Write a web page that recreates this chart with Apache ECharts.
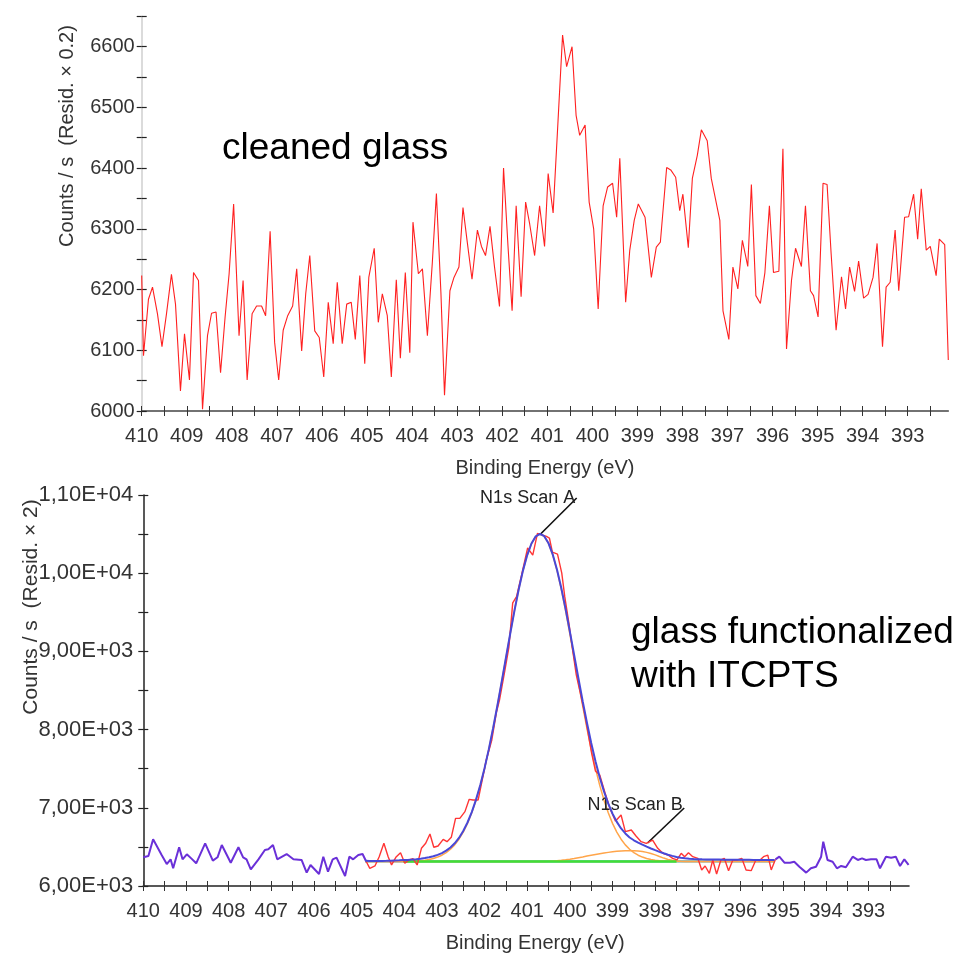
<!DOCTYPE html>
<html>
<head>
<meta charset="utf-8">
<script src="https://cdn.jsdelivr.net/npm/echarts@6.0.0/dist/echarts.min.js"></script>
<style>
html,body{margin:0;padding:0;background:#fff;}
#chart{width:970px;height:956px;}
</style>
</head>
<body>
<div id="chart"></div>
<script>
// ---------- Top panel: cleaned glass (energy in eV, counts/s) ----------
const topEnergy = [410.00,409.96,409.85,409.76,409.65,409.55,409.45,409.34,409.25,409.14,409.05,408.94,408.85,408.74,408.65,408.54,408.45,408.35,408.25,408.15,408.06,407.96,407.84,407.75,407.66,407.55,407.45,407.34,407.25,407.15,407.05,406.96,406.86,406.76,406.65,406.56,406.45,406.36,406.27,406.16,406.06,405.96,405.86,405.75,405.66,405.55,405.45,405.35,405.26,405.16,405.05,404.96,404.84,404.75,404.66,404.55,404.46,404.35,404.26,404.15,404.05,403.98,403.86,403.77,403.66,403.55,403.46,403.36,403.28,403.16,403.07,402.96,402.87,402.78,402.67,402.55,402.46,402.37,402.27,402.17,402.06,401.97,401.87,401.78,401.69,401.58,401.48,401.39,401.28,401.17,401.06,400.98,400.87,400.76,400.66,400.57,400.45,400.36,400.28,400.16,400.07,399.97,399.87,399.76,399.66,399.55,399.46,399.39,399.26,399.17,399.07,398.98,398.83,398.69,398.58,398.49,398.35,398.26,398.15,398.06,397.99,397.87,397.78,397.67,397.58,397.45,397.36,397.17,397.10,396.97,396.88,396.77,396.67,396.55,396.47,396.37,396.27,396.17,396.07,395.98,395.86,395.77,395.69,395.58,395.49,395.36,395.27,395.16,395.09,394.99,394.88,394.79,394.70,394.59,394.47,394.38,394.29,394.18,394.09,393.98,393.88,393.77,393.68,393.56,393.48,393.39,393.28,393.20,393.07,392.98,392.87,392.78,392.70,392.59,392.50,392.37,392.30,392.18,392.10];
const topCounts = [6223,6091,6184,6204,6160,6106,6160,6225,6176,6033,6127,6051,6228,6215,6003,6124,6161,6163,6063,6154,6226,6341,6124,6215,6051,6160,6173,6173,6157,6296,6113,6051,6133,6157,6173,6234,6099,6193,6256,6132,6121,6056,6179,6111,6212,6111,6176,6179,6118,6223,6078,6220,6268,6146,6193,6157,6056,6216,6087,6228,6096,6311,6226,6234,6124,6245,6358,6195,6026,6198,6220,6237,6335,6281,6217,6298,6271,6256,6304,6237,6172,6400,6270,6165,6338,6188,6344,6308,6256,6338,6271,6391,6326,6479,6619,6567,6600,6487,6454,6471,6344,6300,6168,6338,6369,6375,6319,6416,6179,6264,6314,6341,6319,6220,6270,6278,6401,6397,6385,6330,6357,6269,6383,6421,6463,6445,6383,6314,6165,6118,6237,6201,6281,6238,6373,6190,6177,6228,6338,6228,6230,6432,6102,6215,6268,6238,6338,6198,6190,6155,6375,6373,6259,6133,6221,6168,6237,6197,6247,6186,6192,6220,6276,6106,6204,6212,6298,6198,6319,6320,6357,6283,6366,6265,6271,6223,6283,6274,6084];

// ---------- Bottom panel: glass functionalized with ITCPTS ----------
// raw spectrum outside the fit region
const outerLeftE = [410.00,409.88,409.77,409.57,409.45,409.36,409.30,409.16,409.08,408.98,408.87,408.76,408.55,408.37,408.26,408.16,407.95,407.77,407.66,407.58,407.48,407.30,407.15,407.07,406.96,406.86,406.64,406.48,406.29,406.17,406.08,405.88,405.78,405.67,405.56,405.47,405.27,405.17,405.08,404.96,404.86,404.78];
const outerLeftCounts = [6367,6384,6597,6396,6281,6341,6226,6495,6341,6405,6350,6290,6546,6324,6367,6524,6298,6495,6367,6341,6213,6340,6460,6469,6524,6341,6409,6341,6333,6171,6269,6153,6375,6183,6341,6362,6128,6375,6341,6396,6409,6320];
const outerRightE = [395.18,395.09,394.97,394.84,394.74,394.62,394.46,394.35,394.23,394.11,394.06,393.96,393.84,393.74,393.64,393.53,393.37,393.25,393.15,393.06,392.94,392.81,392.73,392.59,392.47,392.36,392.26,392.16,392.06];
const outerRightCounts = [6341,6375,6298,6298,6311,6247,6171,6226,6247,6375,6567,6333,6311,6226,6256,6239,6375,6333,6354,6333,6341,6341,6226,6375,6362,6375,6256,6341,6269];
// measured data inside the fit region
const regionE = [404.78,404.69,404.57,404.47,404.36,404.26,404.18,404.08,403.97,403.87,403.77,403.68,403.58,403.48,403.38,403.28,403.19,403.09,402.97,402.88,402.78,402.68,402.58,402.46,402.36,402.27,402.15,402.03,401.96,401.83,401.72,401.65,401.53,401.43,401.34,401.25,401.13,400.99,400.87,400.76,400.65,400.55,400.48,400.41,400.29,400.19,400.12,400.02,399.93,399.85,399.76,399.67,399.58,399.49,399.40,399.30,399.18,399.06,398.93,398.80,398.70,398.56,398.45,398.33,398.21,398.06,397.94,397.82,397.70,397.59,397.49,397.39,397.31,397.22,397.12,397.00,396.91,396.83,396.73,396.65,396.56,396.46,396.38,396.28,396.18,396.07,395.97,395.87,395.75,395.64,395.56,395.46,395.36,395.28,395.18];
const regionCounts = [6320,6226,6256,6375,6546,6375,6269,6367,6426,6290,6333,6350,6269,6482,6546,6665,6495,6512,6597,6567,6622,6865,6865,6951,7108,7100,7100,7420,7611,7867,8225,8378,8737,9050,9620,9700,9980,10322,10230,10510,10490,10470,10450,10270,10245,10000,9700,9350,9000,8700,8480,8250,7980,7700,7470,7420,7200,6990,6830,6908,6695,6716,6639,6567,6546,6588,6482,6418,6396,6354,6333,6418,6375,6426,6375,6354,6205,6256,6162,6333,6153,6333,6354,6196,6333,6333,6354,6205,6196,6333,6324,6375,6396,6205,6341];
// fit curves (read at 0.1 eV)
const fitE = [404.8,404.7,404.6,404.5,404.4,404.3,404.2,404.1,404.0,403.9,403.8,403.7,403.6,403.5,403.4,403.3,403.2,403.1,403.0,402.9,402.8,402.7,402.6,402.5,402.4,402.3,402.2,402.1,402.0,401.9,401.8,401.7,401.6,401.5,401.4,401.3,401.2,401.1,401.0,400.9,400.8,400.7,400.6,400.5,400.4,400.3,400.2,400.1,400.0,399.9,399.8,399.7,399.6,399.5,399.4,399.3,399.2,399.1,399.0,398.9,398.8,398.7,398.6,398.5,398.4,398.3,398.2,398.1,398.0,397.9,397.8,397.7,397.6,397.5,397.4,397.3,397.2,397.1,397.0,396.9,396.8,396.7,396.6,396.5,396.4,396.3,396.2,396.1,396.0,395.9,395.8,395.7,395.6,395.5,395.4,395.3,395.2];
const envelope = [6322,6320,6320,6320,6321,6322,6324,6326,6328,6331,6334,6338,6343,6349,6357,6367,6380,6398,6421,6452,6493,6546,6615,6703,6812,6945,7105,7292,7507,7750,8018,8305,8607,8916,9223,9519,9792,10033,10232,10380,10472,10503,10473,10382,10237,10042,9807,9541,9253,8955,8656,8364,8087,7829,7595,7388,7208,7054,6926,6820,6736,6672,6620,6585,6555,6528,6503,6480,6458,6437,6418,6400,6385,6372,6362,6355,6350,6346,6343,6341,6340,6339,6338,6338,6337,6337,6336,6336,6335,6335,6335,6334,6334,6334,6333,6333,6333];
const componentA = [6312,6312,6312,6312,6312,6312,6312,6312,6313,6314,6315,6317,6320,6324,6330,6339,6352,6370,6394,6427,6470,6526,6598,6689,6801,6936,7098,7287,7504,7748,8016,8304,8606,8915,9222,9518,9791,10032,10231,10379,10471,10502,10471,10379,10231,10032,9791,9518,9222,8915,8606,8304,8016,7748,7504,7287,7098,6936,6801,6689,6598,6526,6470,6427,6394,6370,6352,6339,6330,6324,6320,6317,6315,6314,6313,6312,6312,6312,6312,6312,6312,6312,6312,6312,6312,6312,6312,6312,6312,6312,6312,6312,6312,6312,6312,6312,6312];
const componentB = [6312,6312,6312,6312,6312,6312,6312,6312,6312,6312,6312,6312,6312,6312,6312,6312,6312,6312,6312,6312,6312,6312,6312,6312,6312,6312,6312,6312,6312,6312,6312,6312,6312,6312,6312,6312,6312,6312,6312,6312,6312,6313,6314,6315,6318,6322,6328,6335,6343,6352,6362,6372,6383,6393,6403,6413,6422,6430,6437,6443,6448,6451,6452,6451,6447,6440,6430,6416,6398,6377,6357,6340,6328,6320,6316,6314,6313,6312,6312,6312,6312,6312,6312,6312,6312,6312,6312,6312,6312,6312,6312,6312,6312,6312,6312,6312,6312];
const backgroundE = [404.8, 395.2];
const backgroundCounts = [6316, 6316];
const greenE = [403.9, 397.5];
const greenCounts = [6312, 6312];

// ---------- ticks / labels ----------
const xTickLabels = [410,409,408,407,406,405,404,403,402,401,400,399,398,397,396,395,394,393];
const xMinorTicks = [410,409.5,409,408.5,408,407.5,407,406.5,406,405.5,405,404.5,404,403.5,403,402.5,402,401.5,401,400.5,400,399.5,399,398.5,398,397.5,397,396.5,396,395.5,395,394.5,394,393.5,393,392.5];
const yTopLabels = [6000,6100,6200,6300,6400,6500,6600];
const yTopTicks = [6000,6050,6100,6150,6200,6250,6300,6350,6400,6450,6500,6550,6600,6650];
const yBotLabelValues = [6000,7000,8000,9000,10000,11000];
const yBotLabels = ['6,00E+03','7,00E+03','8,00E+03','9,00E+03','1,00E+04','1,10E+04'];
const yBotTicks = [6000,6500,7000,7500,8000,8500,9000,9500,10000,10500,11000];

const FONT = 'Liberation Sans, Arial, sans-serif';
const zip = (xs, ys) => xs.map((x, i) => [x, ys[i]]);

function xPair(grid, min, lineColor, nameShift) {
  const base = {gridIndex: grid, type: 'value', inverse: true, min: min, max: 410, position: 'bottom', splitLine: {show: false}};
  return [
    Object.assign({}, base, {
      axisLine: {show: true, lineStyle: {color: lineColor, width: 1.6}},
      axisTick: {show: true, customValues: xMinorTicks, length: 5, lineStyle: {color: '#333', width: 1}},
      axisLabel: {show: true, customValues: xTickLabels, margin: 15, fontSize: 20, color: '#333', fontFamily: FONT,
        formatter: v => String(Math.round(v))},
      name: 'Binding Energy (eV)', nameLocation: 'middle', nameGap: 47,
      nameTextStyle: {fontSize: 20, color: '#333', fontFamily: FONT, padding: [0, 0, 0, nameShift]}
    }),
    Object.assign({}, base, {
      axisLine: {show: false},
      axisTick: {show: true, inside: true, customValues: xMinorTicks, length: 5, lineStyle: {color: '#333', width: 1}},
      axisLabel: {show: false}
    })
  ];
}

function yPair(grid, min, max, ticks, labelVals, fmt, lineColor, fs, margin) {
  const base = {gridIndex: grid, type: 'value', min: min, max: max, position: 'left', splitLine: {show: false}};
  return [
    Object.assign({}, base, {
      axisLine: {show: true, lineStyle: {color: lineColor, width: 1.5}},
      axisTick: {show: true, customValues: ticks, length: 5, lineStyle: {color: '#222', width: 1.2}},
      axisLabel: {show: true, customValues: labelVals, margin: margin, fontSize: fs, color: '#333', fontFamily: FONT, formatter: fmt}
    }),
    Object.assign({}, base, {
      axisLine: {show: false},
      axisTick: {show: true, inside: true, customValues: ticks, length: 5, lineStyle: {color: '#222', width: 1.2}},
      axisLabel: {show: false}
    })
  ];
}

const chart = echarts.init(document.getElementById('chart'), null, {renderer: 'canvas'});

const lineBase = {type: 'line', showSymbol: false, symbol: 'none', animation: false, silent: true};

chart.setOption({
  animation: false,
  backgroundColor: '#ffffff',
  grid: [
    {left: 141.7, top: 16.3, width: 806.6, height: 394.7},
    {left: 143.3, top: 495, width: 765.7, height: 391}
  ],
  xAxis: [].concat(
    xPair(0, 392.1, '#444', 0),
    xPair(1, 392.05, '#222', 18)
  ),
  yAxis: [].concat(
    yPair(0, 6000, 6650, yTopTicks, yTopLabels, v => String(v), '#cfcfcf', 20, 7),
    yPair(1, 6000, 11000, yBotTicks, yBotLabelValues, v => yBotLabels[yBotLabelValues.indexOf(v)] || '', '#222', 22, 10)
  ),
  graphic: [
    {type: 'text', x: 67, y: 136, rotation: Math.PI / 2,
      style: {text: 'Counts / s  (Resid. \u00d7 0.2)', fill: '#333', font: '20px ' + FONT, align: 'center', verticalAlign: 'middle'}},
    {type: 'text', x: 31, y: 607, rotation: Math.PI / 2,
      style: {text: 'Counts / s  (Resid. \u00d7 2)', fill: '#333', font: '21px ' + FONT, align: 'center', verticalAlign: 'middle'}},
    {type: 'text', x: 222, y: 149,
      style: {text: 'cleaned glass', fill: '#000', font: '37px ' + FONT, align: 'left', verticalAlign: 'middle'}},
    {type: 'text', x: 631, y: 633,
      style: {text: 'glass functionalized', fill: '#000', font: '37px ' + FONT, align: 'left', verticalAlign: 'middle'}},
    {type: 'text', x: 631, y: 677,
      style: {text: 'with ITCPTS', fill: '#000', font: '37px ' + FONT, align: 'left', verticalAlign: 'middle'}}
  ],
  series: [
    Object.assign({}, lineBase, {name: 'cleaned glass', xAxisIndex: 0, yAxisIndex: 0,
      data: zip(topEnergy, topCounts), lineStyle: {color: '#ff2020', width: 1.1}, z: 5}),
    Object.assign({}, lineBase, {name: 'background', xAxisIndex: 2, yAxisIndex: 2,
      data: zip(backgroundE, backgroundCounts), lineStyle: {color: '#38b8e0', width: 2.2}, z: 2}),
    Object.assign({}, lineBase, {name: 'N1s Scan B', xAxisIndex: 2, yAxisIndex: 2,
      data: zip(fitE, componentB), lineStyle: {color: '#ffa54a', width: 1.5}, z: 3}),
    Object.assign({}, lineBase, {name: 'N1s Scan A', xAxisIndex: 2, yAxisIndex: 2,
      data: zip(fitE, componentA), lineStyle: {color: '#ffa54a', width: 1.5}, z: 3}),
    Object.assign({}, lineBase, {name: 'limit', xAxisIndex: 2, yAxisIndex: 2,
      data: zip(greenE, greenCounts), lineStyle: {color: '#44dd33', width: 2.5}, z: 4}),
    Object.assign({}, lineBase, {name: 'data (region)', xAxisIndex: 2, yAxisIndex: 2,
      data: zip(regionE, regionCounts), lineStyle: {color: '#ff3535', width: 1.4}, z: 5}),
    Object.assign({}, lineBase, {name: 'data left', xAxisIndex: 2, yAxisIndex: 2,
      data: zip(outerLeftE, outerLeftCounts), lineStyle: {color: '#6a30d8', width: 2}, z: 6}),
    Object.assign({}, lineBase, {name: 'data right', xAxisIndex: 2, yAxisIndex: 2,
      data: zip(outerRightE, outerRightCounts), lineStyle: {color: '#6a30d8', width: 2}, z: 6}),
    Object.assign({}, lineBase, {name: 'envelope', xAxisIndex: 2, yAxisIndex: 2,
      data: zip(fitE, envelope), lineStyle: {color: '#4848d8', width: 2}, z: 7,
      markLine: {silent: true, symbol: ['none', 'none'], label: {show: false},
        lineStyle: {color: '#111', width: 1.6, type: 'solid'},
        data: [
          [{coord: [400.71, 10488]}, {coord: [399.84, 10962]}],
          [{coord: [398.18, 6550]}, {coord: [397.32, 6997]}]
        ]},
      markPoint: {silent: true, symbol: 'circle', symbolSize: 0,
        label: {show: true, position: 'inside', color: '#222', fontSize: 18, fontFamily: FONT},
        data: [
          {coord: [400.99, 10962], value: 'N1s Scan A', label: {formatter: 'N1s Scan A'}},
          {coord: [398.47, 7036], value: 'N1s Scan B', label: {formatter: 'N1s Scan B'}}
        ]}
    })
  ]
});
</script>
</body>
</html>
